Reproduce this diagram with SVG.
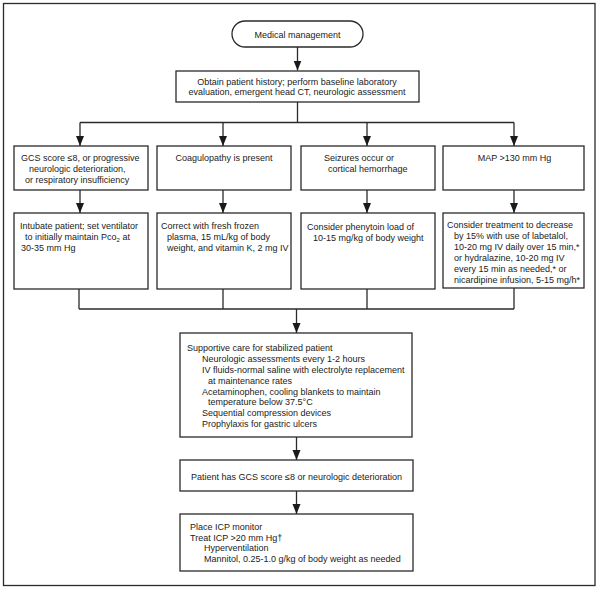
<svg xmlns="http://www.w3.org/2000/svg" width="600" height="589" viewBox="0 0 600 589">
<style>
.b{fill:#fff;stroke:#2a2a2a;stroke-width:1.3}
.l{fill:none;stroke:#2a2a2a;stroke-width:1.3}
text{font-family:"Liberation Sans",Arial,sans-serif;font-size:9px;fill:#222}
.c{text-anchor:middle}
</style>
<defs>
<marker id="ah" viewBox="0 0 10 10" refX="10" refY="5" markerWidth="10" markerHeight="10" markerUnits="userSpaceOnUse" orient="auto">
<path d="M0,1 L10,5 L0,9 Z" fill="#1a1a1a"/>
</marker>
</defs>
<rect x="3.5" y="3.5" width="591.5" height="582" fill="#fff" stroke="#2a2a2a" stroke-width="1.3"/>
<g id="connectors">
<line class="l" x1="297.5" y1="47" x2="297.5" y2="70.5" marker-end="url(#ah)"/>
<line class="l" x1="297.5" y1="102" x2="297.5" y2="122.5"/>
<line class="l" x1="80" y1="122.5" x2="514" y2="122.5"/>
<line class="l" x1="80" y1="122.5" x2="80" y2="146" marker-end="url(#ah)"/>
<line class="l" x1="223" y1="122.5" x2="223" y2="146" marker-end="url(#ah)"/>
<line class="l" x1="367" y1="122.5" x2="367" y2="146" marker-end="url(#ah)"/>
<line class="l" x1="514" y1="122.5" x2="514" y2="146" marker-end="url(#ah)"/>
<line class="l" x1="80" y1="190" x2="80" y2="213" marker-end="url(#ah)"/>
<line class="l" x1="223" y1="190" x2="223" y2="213" marker-end="url(#ah)"/>
<line class="l" x1="367" y1="190" x2="367" y2="213" marker-end="url(#ah)"/>
<line class="l" x1="514" y1="190" x2="514" y2="213" marker-end="url(#ah)"/>
<line class="l" x1="79" y1="289" x2="79" y2="309"/>
<line class="l" x1="223" y1="289" x2="223" y2="309"/>
<line class="l" x1="367" y1="289" x2="367" y2="309"/>
<line class="l" x1="514" y1="288" x2="514" y2="309"/>
<line class="l" x1="79" y1="309" x2="514" y2="309"/>
<line class="l" x1="296.5" y1="309" x2="296.5" y2="333" marker-end="url(#ah)"/>
<line class="l" x1="296.5" y1="437" x2="296.5" y2="460" marker-end="url(#ah)"/>
<line class="l" x1="296.5" y1="491" x2="296.5" y2="514" marker-end="url(#ah)"/>
</g>
<g id="start">
<rect class="b" x="232" y="21" width="131" height="26" rx="13"/>
<text class="c" x="297.5" y="38.3">Medical management</text>
</g>
<g id="history">
<rect class="b" x="176" y="71" width="243" height="31"/>
<text class="c" x="297" y="84.5">Obtain patient history; perform baseline laboratory</text>
<text class="c" x="297" y="95">evaluation, emergent head CT, neurologic assessment</text>
</g>
<g id="gcs">
<rect class="b" x="14" y="146" width="134" height="44"/>
<text x="21" y="160.5">GCS score ≤8, or progressive</text>
<text x="29" y="171.5">neurologic deterioration,</text>
<text x="25" y="182.5">or respiratory insufficiency</text>
</g>
<g id="coag">
<rect class="b" x="157" y="146" width="134" height="44"/>
<text class="c" x="224" y="160.5">Coagulopathy is present</text>
</g>
<g id="seizures">
<rect class="b" x="301" y="146" width="134" height="44"/>
<text x="324" y="160.5">Seizures occur or</text>
<text x="328" y="171.5">cortical hemorrhage</text>
</g>
<g id="map">
<rect class="b" x="443" y="146" width="141" height="44"/>
<text class="c" x="514.5" y="160.5">MAP &gt;130 mm Hg</text>
</g>
<g id="intubate">
<rect class="b" x="14" y="213" width="134" height="76"/>
<text x="20" y="228.5">Intubate patient; set ventilator</text>
<text x="25" y="239.5">to initially maintain Pco<tspan font-size="6" dy="2">2</tspan><tspan dy="-2"> at</tspan></text>
<text x="21" y="250.5">30-35 mm Hg</text>
</g>
<g id="correct">
<rect class="b" x="157" y="213" width="134" height="76"/>
<text x="161" y="228.5">Correct with fresh frozen</text>
<text x="167" y="239.5">plasma, 15 mL/kg of body</text>
<text x="167" y="250.5">weight, and vitamin K, 2 mg IV</text>
</g>
<g id="phenytoin">
<rect class="b" x="301" y="213" width="134" height="76"/>
<text x="307" y="230">Consider phenytoin load of</text>
<text x="313" y="240.5">10-15 mg/kg of body weight</text>
</g>
<g id="treatment">
<rect class="b" x="443" y="213" width="141" height="75"/>
<text x="447" y="227.5">Consider treatment to decrease</text>
<text x="454" y="238.5">by 15% with use of labetalol,</text>
<text x="454" y="249.5">10-20 mg IV daily over 15 min,*</text>
<text x="454" y="260.5">or hydralazine, 10-20 mg IV</text>
<text x="454" y="271.5">every 15 min as needed,* or</text>
<text x="454" y="282.5">nicardipine infusion, 5-15 mg/h*</text>
</g>
<g id="supportive">
<rect class="b" x="180" y="333" width="232" height="104"/>
<text x="187" y="350.5">Supportive care for stabilized patient</text>
<text x="202" y="361.5">Neurologic assessments every 1-2 hours</text>
<text x="202" y="372.5">IV fluids-normal saline with electrolyte replacement</text>
<text x="208" y="383.5">at maintenance rates</text>
<text x="202" y="394.5">Acetaminophen, cooling blankets to maintain</text>
<text x="208" y="405.3">temperature below 37.5°C</text>
<text x="202" y="416.2">Sequential compression devices</text>
<text x="202" y="427">Prophylaxis for gastric ulcers</text>
</g>
<g id="deterioration">
<rect class="b" x="180" y="460" width="233" height="31"/>
<text x="191" y="479.5">Patient has GCS score ≤8 or neurologic deterioration</text>
</g>
<g id="icp">
<rect class="b" x="180" y="514" width="233" height="57"/>
<text x="190" y="529.5">Place ICP monitor</text>
<text x="190" y="540.5">Treat ICP &gt;20 mm Hg†</text>
<text x="204" y="551.2">Hyperventilation</text>
<text x="204" y="562">Mannitol, 0.25-1.0 g/kg of body weight as needed</text>
</g>
</svg>
